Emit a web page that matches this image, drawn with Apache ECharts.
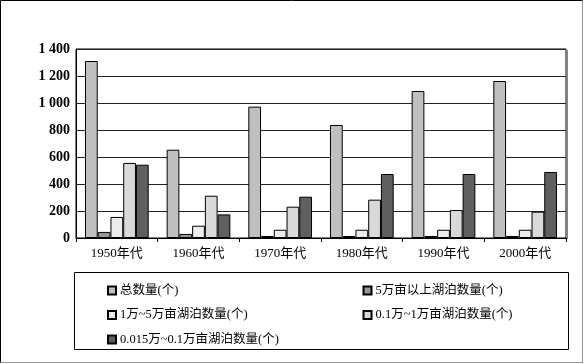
<!DOCTYPE html>
<html><head><meta charset="utf-8">
<script src="https://cdn.jsdelivr.net/npm/echarts@6/dist/echarts.min.js"></script>
<style>html,body{margin:0;padding:0;background:#fff}#c{width:584px;height:364px}</style>
</head><body><div id="c"></div>
<script>
const categories = ['1950年代','1960年代','1970年代','1980年代','1990年代','2000年代'];
const seriesNames = ['总数量(个)','5万亩以上湖泊数量(个)','1万~5万亩湖泊数量(个)','0.1万~1万亩湖泊数量(个)','0.015万~0.1万亩湖泊数量(个)'];
const totalCount = [1311, 654, 973, 837, 1089, 1163];
const over5wan = [45, 30, 15, 15, 15, 15];
const wan1to5 = [156, 91, 61, 61, 61, 61];
const wan01to1 = [556, 313, 232, 284, 207, 195];
const wan0015to01 = [543, 175, 306, 474, 474, 489];
const yTicks = [0, 200, 400, 600, 800, 1000, 1200, 1400];

const colors = ['#bfbfbf','#969696','#ececec','#d9d9d9','#5f5f5f'];
const values = [totalCount, over5wan, wan1to5, wan01to1, wan0015to01];
const serif = 'Liberation Serif, Times New Roman, Noto Sans CJK SC, serif';
const legendFont = 'Liberation Serif, Noto Sans CJK SC, serif';

const chart = echarts.init(document.getElementById('c'));
const legendText = { color: '#000', fontFamily: legendFont, fontSize: 12.5, lineHeight: 15, padding: [0,0,0,-1] };
chart.setOption({
  animation: false,
  backgroundColor: '#fff',
  grid: { left: 76, top: 49, width: 490, height: 189, show: true, borderColor: '#000', borderWidth: 1 },
  xAxis: {
    type: 'category', data: categories,
    axisLine: { lineStyle: { color: '#000', width: 1 } },
    axisTick: { show: true, length: 4, lineStyle: { color: '#000' } },
    axisLabel: { color: '#000', fontFamily: serif, fontSize: 13, margin: 9 }
  },
  yAxis: {
    type: 'value', min: yTicks[0], max: yTicks[yTicks.length-1], interval: 200,
    axisLine: { show: true, lineStyle: { color: '#000' } },
    axisTick: { show: false },
    splitLine: { lineStyle: { color: '#222', width: 1 } },
    axisLabel: { color: '#000', fontFamily: serif, fontSize: 14, fontWeight: 'bold', margin: 6,
      formatter: v => v >= 1000 ? Math.floor(v/1000) + ' ' + String(v % 1000).padStart(3,'0') : String(v) }
  },
  legend: [
    { data: [seriesNames[0], seriesNames[2], seriesNames[4]], orient: 'vertical', left: 102, top: 278,
      itemWidth: 8, itemHeight: 8, itemGap: 9.5, icon: 'rect', textStyle: legendText },
    { data: [seriesNames[1], seriesNames[3]], orient: 'vertical', left: 357.5, top: 278,
      itemWidth: 8, itemHeight: 8, itemGap: 9.5, icon: 'rect', textStyle: legendText }
  ],
  graphic: [
    { type: 'rect', shape: { x: 0.5, y: 0.5, width: 582, height: 362 }, style: { fill: null, stroke: '#000', lineWidth: 1 }, silent: true },
    { type: 'line', shape: { x1: 582.5, y1: 0.5, x2: 582.5, y2: 362.5 }, style: { stroke: '#999', lineWidth: 1 }, silent: true },
    { type: 'line', shape: { x1: 0.5, y1: 362.5, x2: 582.5, y2: 362.5 }, style: { stroke: '#999', lineWidth: 1 }, silent: true },
    { type: 'rect', shape: { x: 74.5, y: 272.5, width: 494, height: 77 }, style: { fill: null, stroke: '#000', lineWidth: 1 }, silent: true },
    { type: 'line', shape: { x1: 567.5, y1: 50, x2: 567.5, y2: 239 }, style: { stroke: '#888', lineWidth: 1 }, silent: true }
  ],
  series: values.map((d, i) => ({
    name: seriesNames[i], type: 'bar', data: d,
    barGap: '0%', barCategoryGap: '22%',
    itemStyle: { color: colors[i], borderColor: '#000', borderWidth: 1 }
  }))
});
</script></body></html>
